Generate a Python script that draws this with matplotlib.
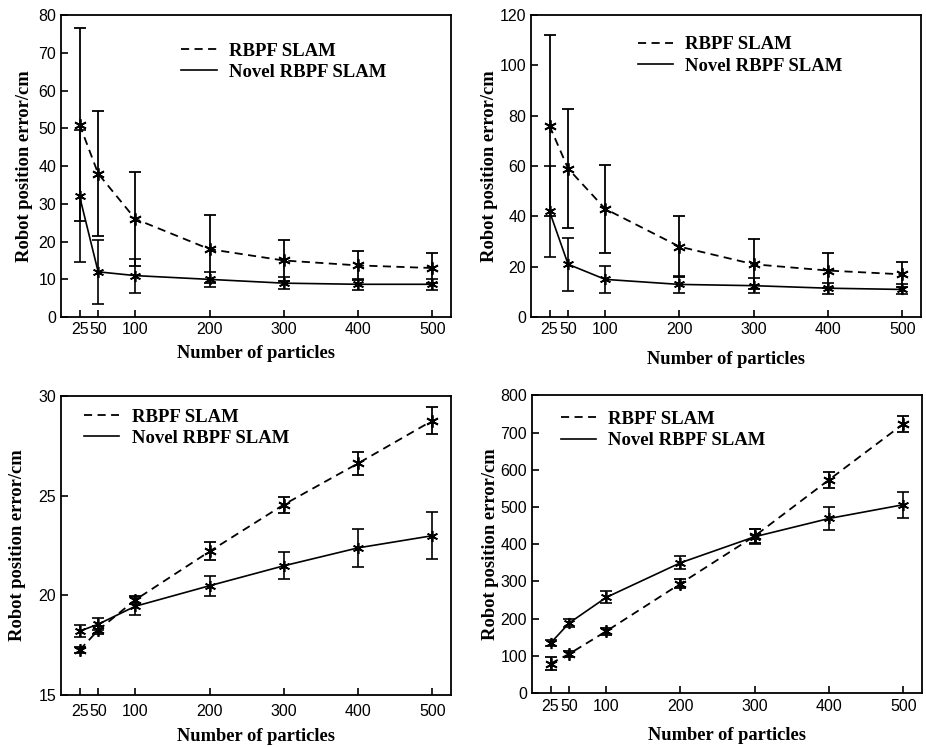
import matplotlib
matplotlib.use("Agg")
import matplotlib.pyplot as plt
from matplotlib.lines import Line2D

# particle counts (shared by all four panels)
particles = [25, 50, 100, 200, 300, 400, 500]
xtick_vals = [25, 50, 100, 200, 300, 400, 500]

# panel (a): top-left
rbpf_a = [51, 38, 26, 18, 15, 13.7, 13]
rbpf_a_err = [25.5, 16.5, 12.5, 9, 5.5, 3.8, 4]
novel_a = [32, 12, 11, 10, 9, 8.7, 8.7]
novel_a_err = [17.5, 8.5, 4.5, 2, 1.5, 1.5, 1.5]

# panel (b): top-right
rbpf_b = [76, 59, 43, 28, 21, 18.5, 17]
rbpf_b_err = [36, 23.5, 17.5, 12, 10, 7, 5]
novel_b = [42, 21, 15, 13, 12.5, 11.5, 11]
novel_b_err = [18, 10.5, 5.5, 3.3, 3, 2.2, 2]

# panel (c): bottom-left
rbpf_c = [17.25, 18.25, 19.77, 22.2, 24.55, 26.62, 28.76]
rbpf_c_err = [0.15, 0.2, 0.2, 0.45, 0.4, 0.57, 0.67]
novel_c = [18.2, 18.55, 19.45, 20.48, 21.48, 22.38, 22.99]
novel_c_err = [0.3, 0.3, 0.45, 0.5, 0.67, 0.94, 1.19]

# panel (d): bottom-right
rbpf_d = [79, 105, 166, 294, 422, 573, 723]
rbpf_d_err = [18, 7, 10, 12, 20, 22, 21]
novel_d = [134, 188, 257, 350, 420, 469, 506]
novel_d_err = [8, 11, 16, 18, 20, 32, 35]

# rect, data, ylim, yticks, legend anchor, (xtick pad, xlabel pad, ylabel pad)
panels = [
    ([0.0659, 0.576, 0.421, 0.404], rbpf_a, rbpf_a_err, novel_a, novel_a_err,
     (0, 80), [0, 10, 20, 30, 40, 50, 60, 70, 80], (0.265, 0.965), (3.5, 6, 4)),
    ([0.5734, 0.576, 0.421, 0.404], rbpf_b, rbpf_b_err, novel_b, novel_b_err,
     (0, 120), [0, 20, 40, 60, 80, 100, 120], (0.23, 0.985), (3.5, 10, 1)),
    ([0.0659, 0.0709, 0.421, 0.3997], rbpf_c, rbpf_c_err, novel_c, novel_c_err,
     (15, 30), [15, 20, 25, 30], (0.015, 1.015), (6.5, 6.5, 9)),
    ([0.5745, 0.0735, 0.421, 0.398], rbpf_d, rbpf_d_err, novel_d, novel_d_err,
     (0, 800), [0, 100, 200, 300, 400, 500, 600, 700, 800], (0.03, 1.005), (4.5, 9.5, 1)),
]

serif_bold = dict(family="Liberation Serif", weight="bold", size=13.3)
star = (6, 2, 0)
dash = (0, (4.5, 3))

fig = plt.figure(figsize=(9.26, 7.48), dpi=100)

for rect, rb, rbe, nv, nve, ylim, yticks, leg_pos, pads in panels:
    xpad, xlpad, ylpad = pads
    ax = fig.add_axes(rect)
    ax.errorbar(particles, rb, yerr=rbe, color="black", lw=1.3,
                linestyle=dash, marker=star, markersize=9,
                markeredgewidth=1.3, capsize=4.5, elinewidth=1.3,
                capthick=1.3, label="RBPF SLAM")
    ax.errorbar(particles, nv, yerr=nve, color="black", lw=1.2,
                linestyle="-", marker=star, markersize=8,
                markeredgewidth=1.2, capsize=4.5, elinewidth=1.2,
                capthick=1.2, label="Novel RBPF SLAM")
    ax.set_xlim(0, 525)
    ax.set_ylim(*ylim)
    ax.set_xticks(xtick_vals)
    ax.set_yticks(yticks)
    ax.tick_params(direction="in", length=5, width=1.2, labelsize=11.5,
                   top=False, right=False)
    ax.tick_params(axis="x", pad=xpad)
    for lab in ax.get_xticklabels() + ax.get_yticklabels():
        lab.set_family("Liberation Sans")
    for sp in ax.spines.values():
        sp.set_linewidth(1.3)
    ax.set_xlabel("Number of particles", fontdict=serif_bold, labelpad=xlpad)
    ax.set_ylabel("Robot position error/cm", fontdict=serif_bold, labelpad=ylpad)
    labels = ["RBPF SLAM", "Novel RBPF SLAM"]
    # legend shows only the line styles
    h = [Line2D([], [], color="black", lw=1.3, linestyle=dash),
         Line2D([], [], color="black", lw=1.2)]
    ax.legend(h, labels, loc="upper left", bbox_to_anchor=leg_pos,
              frameon=False, handlelength=1.9, handletextpad=0.65,
              labelspacing=0.22,
              prop=dict(family="Liberation Serif", weight="bold", size=13.5))

fig.savefig("out.png", dpi=100)
